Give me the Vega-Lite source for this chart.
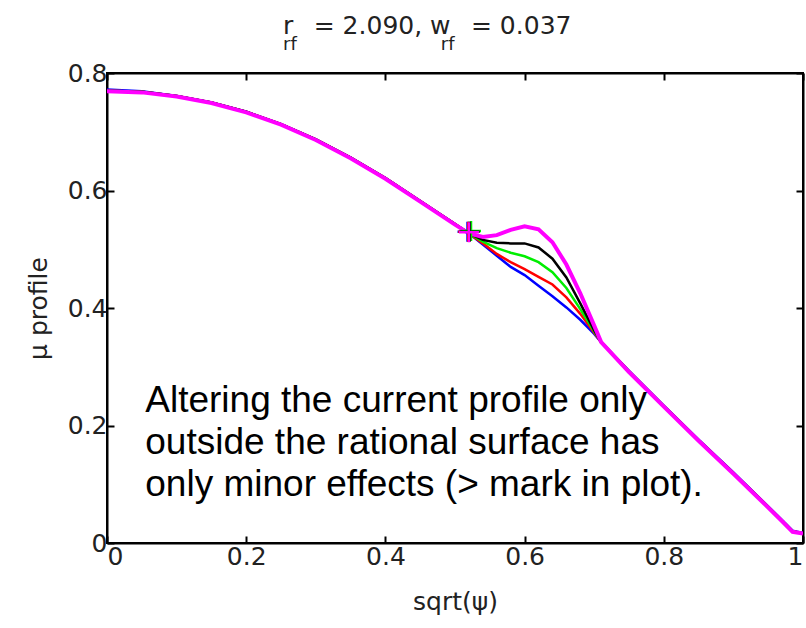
{
  "$schema": "https://vega.github.io/schema/vega-lite/v6.json",
  "width": 696,
  "height": 470,
  "autosize": {"type": "none"},
  "padding": {"left": 107, "top": 73, "right": 3, "bottom": 85},
  "background": "white",
  "config": {
    "view": {"stroke": "black", "strokeWidth": 2},
    "axis": {
      "grid": false,
      "domainColor": "black",
      "domainWidth": 2,
      "tickColor": "black",
      "tickWidth": 2,
      "tickSize": -7,
      "labelFont": "DejaVu Sans",
      "labelFontSize": 25,
      "labelColor": "#222",
      "titleFont": "DejaVu Sans",
      "titleFontSize": 25,
      "titleFontWeight": "normal",
      "titleColor": "#222"
    }
  },
  "title": {
    "text": "r\u2002 = 2.090, w\u2002 = 0.037",
    "subtitle": "\u2005\u2005rf\u2003\u2003\u2003\u2003\u2003\u2003\u2003\u2002\u2005\u2005rf",
    "anchor": "start",
    "frame": "group",
    "dx": 176,
    "font": "DejaVu Sans",
    "fontSize": 25,
    "fontWeight": "normal",
    "color": "#222",
    "subtitleFont": "DejaVu Sans",
    "subtitleFontSize": 18,
    "subtitleColor": "#222",
    "subtitlePadding": -3,
    "offset": 7
  },
  "datasets": {
    "curves": [
      {"s":"b","x":0,"y":0.772},{"s":"b","x":0.05,"y":0.769},{"s":"b","x":0.1,"y":0.761},{"s":"b","x":0.15,"y":0.750},{"s":"b","x":0.2,"y":0.734},{"s":"b","x":0.25,"y":0.713},{"s":"b","x":0.3,"y":0.687},{"s":"b","x":0.35,"y":0.656},{"s":"b","x":0.4,"y":0.621},{"s":"b","x":0.45,"y":0.582},{"s":"b","x":0.5,"y":0.543},{"s":"b","x":0.52,"y":0.527},
      {"s":"b","x":0.54,"y":0.508},{"s":"b","x":0.56,"y":0.489},{"s":"b","x":0.58,"y":0.470},{"s":"b","x":0.60,"y":0.456},{"s":"b","x":0.62,"y":0.438},{"s":"b","x":0.64,"y":0.420},{"s":"b","x":0.66,"y":0.401},{"s":"b","x":0.68,"y":0.380},{"s":"b","x":0.70,"y":0.356},
      {"s":"b","x":0.71,"y":0.342},{"s":"b","x":0.75,"y":0.293},{"s":"b","x":0.8,"y":0.234},{"s":"b","x":0.85,"y":0.176},{"s":"b","x":0.9,"y":0.120},{"s":"b","x":0.94,"y":0.074},{"s":"b","x":0.97,"y":0.039},{"s":"b","x":0.985,"y":0.021},{"s":"b","x":1,"y":0.017},

      {"s":"r","x":0,"y":0.770},{"s":"r","x":0.05,"y":0.768},{"s":"r","x":0.1,"y":0.761},{"s":"r","x":0.15,"y":0.750},{"s":"r","x":0.2,"y":0.734},{"s":"r","x":0.25,"y":0.713},{"s":"r","x":0.3,"y":0.687},{"s":"r","x":0.35,"y":0.656},{"s":"r","x":0.4,"y":0.621},{"s":"r","x":0.45,"y":0.582},{"s":"r","x":0.5,"y":0.543},{"s":"r","x":0.52,"y":0.527},
      {"s":"r","x":0.54,"y":0.510},{"s":"r","x":0.56,"y":0.492},{"s":"r","x":0.58,"y":0.478},{"s":"r","x":0.60,"y":0.466},{"s":"r","x":0.62,"y":0.453},{"s":"r","x":0.64,"y":0.440},{"s":"r","x":0.66,"y":0.418},{"s":"r","x":0.68,"y":0.390},{"s":"r","x":0.70,"y":0.358},
      {"s":"r","x":0.71,"y":0.342},{"s":"r","x":0.75,"y":0.292},{"s":"r","x":0.8,"y":0.233},{"s":"r","x":0.85,"y":0.175},{"s":"r","x":0.9,"y":0.119},{"s":"r","x":0.94,"y":0.073},{"s":"r","x":0.97,"y":0.038},{"s":"r","x":0.985,"y":0.020},{"s":"r","x":1,"y":0.016},

      {"s":"g","x":0,"y":0.770},{"s":"g","x":0.05,"y":0.768},{"s":"g","x":0.1,"y":0.761},{"s":"g","x":0.15,"y":0.750},{"s":"g","x":0.2,"y":0.734},{"s":"g","x":0.25,"y":0.713},{"s":"g","x":0.3,"y":0.687},{"s":"g","x":0.35,"y":0.656},{"s":"g","x":0.4,"y":0.621},{"s":"g","x":0.45,"y":0.582},{"s":"g","x":0.5,"y":0.543},{"s":"g","x":0.52,"y":0.527},
      {"s":"g","x":0.54,"y":0.513},{"s":"g","x":0.56,"y":0.502},{"s":"g","x":0.58,"y":0.494},{"s":"g","x":0.60,"y":0.488},{"s":"g","x":0.62,"y":0.478},{"s":"g","x":0.64,"y":0.461},{"s":"g","x":0.66,"y":0.434},{"s":"g","x":0.68,"y":0.398},{"s":"g","x":0.70,"y":0.360},
      {"s":"g","x":0.71,"y":0.342},{"s":"g","x":0.75,"y":0.292},{"s":"g","x":0.8,"y":0.233},{"s":"g","x":0.85,"y":0.175},{"s":"g","x":0.9,"y":0.119},{"s":"g","x":0.94,"y":0.073},{"s":"g","x":0.97,"y":0.038},{"s":"g","x":0.985,"y":0.020},{"s":"g","x":1,"y":0.016},

      {"s":"k","x":0,"y":0.770},{"s":"k","x":0.05,"y":0.768},{"s":"k","x":0.1,"y":0.761},{"s":"k","x":0.15,"y":0.750},{"s":"k","x":0.2,"y":0.734},{"s":"k","x":0.25,"y":0.713},{"s":"k","x":0.3,"y":0.687},{"s":"k","x":0.35,"y":0.656},{"s":"k","x":0.4,"y":0.621},{"s":"k","x":0.45,"y":0.582},{"s":"k","x":0.5,"y":0.543},{"s":"k","x":0.52,"y":0.527},
      {"s":"k","x":0.54,"y":0.516},{"s":"k","x":0.56,"y":0.511},{"s":"k","x":0.58,"y":0.510},{"s":"k","x":0.60,"y":0.510},{"s":"k","x":0.62,"y":0.503},{"s":"k","x":0.64,"y":0.484},{"s":"k","x":0.66,"y":0.452},{"s":"k","x":0.68,"y":0.408},{"s":"k","x":0.70,"y":0.362},
      {"s":"k","x":0.71,"y":0.342},{"s":"k","x":0.75,"y":0.292},{"s":"k","x":0.8,"y":0.233},{"s":"k","x":0.85,"y":0.175},{"s":"k","x":0.9,"y":0.119},{"s":"k","x":0.94,"y":0.073},{"s":"k","x":0.97,"y":0.038},{"s":"k","x":0.985,"y":0.020},{"s":"k","x":1,"y":0.016},

      {"s":"m","x":0,"y":0.769},{"s":"m","x":0.05,"y":0.767},{"s":"m","x":0.1,"y":0.760},{"s":"m","x":0.15,"y":0.749},{"s":"m","x":0.2,"y":0.733},{"s":"m","x":0.25,"y":0.712},{"s":"m","x":0.3,"y":0.686},{"s":"m","x":0.35,"y":0.655},{"s":"m","x":0.4,"y":0.620},{"s":"m","x":0.45,"y":0.581},{"s":"m","x":0.5,"y":0.542},{"s":"m","x":0.52,"y":0.527},
      {"s":"m","x":0.54,"y":0.521},{"s":"m","x":0.56,"y":0.524},{"s":"m","x":0.58,"y":0.533},{"s":"m","x":0.60,"y":0.539},{"s":"m","x":0.62,"y":0.534},{"s":"m","x":0.64,"y":0.512},{"s":"m","x":0.66,"y":0.474},{"s":"m","x":0.68,"y":0.425},{"s":"m","x":0.70,"y":0.370},
      {"s":"m","x":0.71,"y":0.342},{"s":"m","x":0.75,"y":0.291},{"s":"m","x":0.8,"y":0.232},{"s":"m","x":0.85,"y":0.174},{"s":"m","x":0.9,"y":0.118},{"s":"m","x":0.94,"y":0.072},{"s":"m","x":0.97,"y":0.037},{"s":"m","x":0.985,"y":0.019},{"s":"m","x":1,"y":0.016}
    ],
    "crosses": [
      {"s":"b","x":0.518,"y":0.530},
      {"s":"r","x":0.519,"y":0.530},
      {"s":"g","x":0.523,"y":0.531},
      {"s":"k","x":0.521,"y":0.530},
      {"s":"m","x":0.520,"y":0.529}
    ],
    "note": [
      {"t":"Altering the current profile only\noutside the rational surface has\nonly minor effects (> mark in plot).","x":0.055,"y":0.223}
    ]
  },
  "layer": [
    {
      "data": {"name": "curves"},
      "mark": {"type": "line", "clip": true},
      "encoding": {
        "x": {"field": "x", "type": "quantitative", "scale": {"domain": [0, 1], "nice": false, "zero": false},
              "axis": {"orient": "bottom", "values": [0, 0.2, 0.4, 0.6, 0.8, 1], "format": "~g", "title": "sqrt(\u03c8)", "labelPadding": 8, "titlePadding": 20}},
        "y": {"field": "y", "type": "quantitative", "scale": {"domain": [0, 0.8], "nice": false, "zero": false},
              "axis": {"orient": "left", "values": [0, 0.2, 0.4, 0.6, 0.8], "format": "~g", "title": "\u03bc profile", "labelPadding": 7, "titlePadding": 16}},
        "color": {"field": "s", "type": "nominal", "scale": {"domain": ["b", "r", "g", "k", "m"], "range": ["#0000ff", "#ff0000", "#00ee00", "#000000", "#ff00ff"]}, "legend": null},
        "strokeWidth": {"condition": {"test": "datum.s === 'm'", "value": 4}, "value": 2.5}
      }
    },
    {
      "data": {"name": "crosses"},
      "mark": {"type": "point", "shape": "M-1,0L1,0M0,-1L0,1", "size": 400, "filled": false, "strokeWidth": 2.5, "opacity": 1},
      "encoding": {
        "x": {"field": "x", "type": "quantitative", "axis": {"orient": "top", "values": [0, 0.2, 0.4, 0.6, 0.8, 1], "labels": false, "title": null}},
        "y": {"field": "y", "type": "quantitative", "axis": {"orient": "right", "values": [0, 0.2, 0.4, 0.6, 0.8], "labels": false, "title": null}},
        "color": {"field": "s", "type": "nominal", "legend": null}
      }
    },
    {
      "data": {"name": "note"},
      "mark": {"type": "text", "align": "left", "baseline": "alphabetic", "font": "Liberation Sans", "fontSize": 37, "lineHeight": 42, "lineBreak": "\n", "color": "#000"},
      "encoding": {
        "x": {"field": "x", "type": "quantitative", "axis": null},
        "y": {"field": "y", "type": "quantitative", "axis": null},
        "text": {"field": "t", "type": "nominal"}
      }
    }
  ],
  "resolve": {"axis": {"x": "independent", "y": "independent"}}
}
